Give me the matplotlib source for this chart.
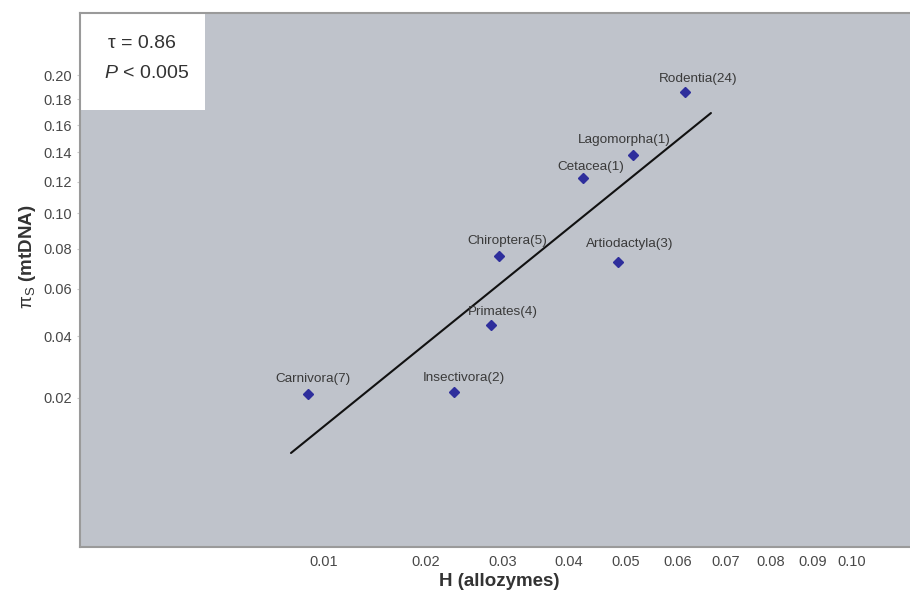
import numpy as np
import matplotlib
matplotlib.use('Agg')
import matplotlib.pyplot as plt
from matplotlib.patches import Rectangle
from matplotlib.ticker import FixedLocator, NullLocator

plt.rcParams['font.family'] = ['Liberation Sans', 'DejaVu Sans']
plt.rcParams['mathtext.fontset'] = 'custom'
plt.rcParams['mathtext.rm'] = 'Liberation Sans'
plt.rcParams['mathtext.it'] = 'Liberation Sans:italic'

# orders, with number of species in brackets
orders = ['Carnivora(7)', 'Insectivora(2)', 'Primates(4)', 'Chiroptera(5)',
          'Artiodactyla(3)', 'Cetacea(1)', 'Lagomorpha(1)', 'Rodentia(24)']
h_allozymes = [0.0087, 0.0235, 0.0283, 0.0294, 0.0485, 0.0424, 0.0513, 0.0615]
pi_s_mtdna = [0.0210, 0.0217, 0.0443, 0.0761, 0.0730, 0.1223, 0.1381, 0.1856]

# regression line end points
fit_x = [0.00747, 0.0668]
fit_y = [0.00794, 0.1692]

x_ticks = [0.01, 0.02, 0.03, 0.04, 0.05, 0.06, 0.07, 0.08, 0.09, 0.10]
x_tick_labels = ['0.01', '0.02', '0.03', '0.04', '0.05', '0.06', '0.07', '0.08', '0.09', '0.10']
y_ticks = [0.02, 0.04, 0.06, 0.08, 0.10, 0.12, 0.14, 0.16, 0.18, 0.20]
y_tick_labels = ['0.02', '0.04', '0.06', '0.08', '0.10', '0.12', '0.14', '0.16', '0.18', '0.20']

# label offsets (points) relative to each marker
label_offsets = {
    'Carnivora(7)': (4, 11), 'Insectivora(2)': (7, 10), 'Primates(4)': (9, 9),
    'Chiroptera(5)': (6, 11), 'Artiodactyla(3)': (9, 13), 'Cetacea(1)': (6, 8),
    'Lagomorpha(1)': (-6, 11), 'Rodentia(24)': (9, 10),
}

W, H = 910, 595
fig = plt.figure(figsize=(W / 100, H / 100), dpi=100)
fig.patch.set_facecolor('white')

left, right, top, bottom = 80, 910, 13, 547
ax = fig.add_axes([left / W, 1 - bottom / H, (right - left) / W, (bottom - top) / H])
ax.set_facecolor('#bfc3cb')

sqrt_fwd = lambda v: np.sqrt(np.clip(v, 0, None))
sqrt_inv = lambda v: np.square(v)
ax.set_xscale('function', functions=(sqrt_fwd, sqrt_inv))
ax.set_yscale('function', functions=(sqrt_fwd, sqrt_inv))
ax.set_xlim(0, 0.1156)
ax.set_ylim(0, 0.2562)

ax.plot(fit_x, fit_y, color='#111111', linewidth=1.5, solid_capstyle='round', zorder=3)
ax.plot(h_allozymes, pi_s_mtdna, linestyle='none', marker='D', markersize=5.3,
        color='#2e2e9c', markeredgecolor='#2e2e9c', zorder=4)

for name, xv, yv in zip(orders, h_allozymes, pi_s_mtdna):
    ax.annotate(name, (xv, yv), xytext=label_offsets[name], textcoords='offset points',
                ha='center', va='center', fontsize=9.7, color='#3a3a3a', zorder=5)

ax.xaxis.set_major_locator(FixedLocator(x_ticks))
ax.xaxis.set_minor_locator(NullLocator())
ax.set_xticklabels(x_tick_labels)
ax.yaxis.set_major_locator(FixedLocator(y_ticks))
ax.yaxis.set_minor_locator(NullLocator())
ax.set_yticklabels(y_tick_labels)
ax.tick_params(axis='x', length=0, pad=6, labelsize=10.5, labelcolor='#484848')
ax.tick_params(axis='y', length=2, width=0.8, color='#c8c8c8', pad=4,
               labelsize=10.5, labelcolor='#484848')

for spine in ax.spines.values():
    spine.set_color('#9a9a9a')
    spine.set_linewidth(1.5)
ax.spines['right'].set_visible(False)

# statistics box
ax.add_patch(Rectangle((0, 0.818), 0.151, 0.182, transform=ax.transAxes,
                       facecolor='white', edgecolor='none', zorder=2))
fig.text(142 / W, 1 - 43 / H, 'τ = 0.86', ha='center', va='center',
         fontsize=14, color='#333333')
fig.text(147 / W, 1 - 74 / H, r'$P$ < 0.005', ha='center', va='center',
         fontsize=14, color='#333333')

fig.text(499 / W, 1 - 582 / H, 'H (allozymes)', ha='center', va='center',
         fontsize=13.5, fontweight='bold', color='#333333')
fig.text(28 / W, 1 - 257 / H, r'$\mathrm{π}_{\mathrm{S}}$ (mtDNA)', ha='center', va='center',
         rotation=90, fontsize=13.5, fontweight='bold', color='#333333')

fig.savefig('out.png', dpi=100, facecolor='white')
